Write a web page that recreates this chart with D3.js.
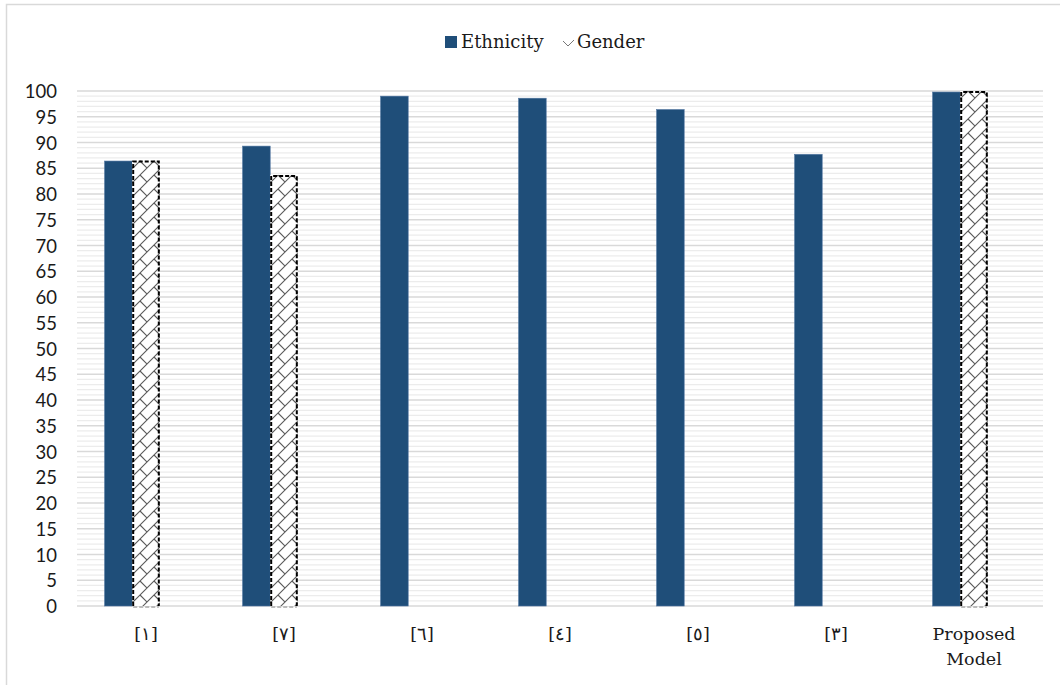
<!DOCTYPE html>
<html>
<head>
<meta charset="utf-8">
<script src="https://cdn.jsdelivr.net/npm/d3@7/dist/d3.min.js"></script>
<style>
  html, body { margin: 0; padding: 0; background: #fff; }
  svg { display: block; }
</style>
</head>
<body>
<svg id="chart" width="1060" height="685"></svg>
<script>
// Accuracy (%) per method
const categories = ["[١]", "[٧]", "[٦]", "[٤]", "[٥]", "[٣]", "Proposed\nModel"];
const ethnicity = [86.4, 89.3, 99.0, 98.6, 96.4, 87.7, 99.8];
const gender    = [86.5, 83.7, null, null, null, null, 100];
const seriesNames = ["Ethnicity", "Gender"];
const yTicks = d3.range(0, 101, 5);

const svg = d3.select("#chart");
const W = 1060, H = 685;
const plot = { left: 77, right: 1043, top: 91, bottom: 606 };

const barColor = "#1f4e79";
const serif = "'DejaVu Serif', serif";
const sans = "Lato, 'Open Sans', sans-serif";

// Outer chart frame
svg.append("rect")
  .attr("x", 6.5).attr("y", 4.5)
  .attr("width", W + 10).attr("height", H + 10)
  .attr("fill", "#fff").attr("stroke", "#d9d9d9").attr("stroke-width", 1.5);

// Hatch pattern for the Gender series
const defs = svg.append("defs");
const pat = defs.append("pattern")
  .attr("id", "hatch").attr("patternUnits", "userSpaceOnUse")
  .attr("width", 14).attr("height", 14);
pat.append("rect").attr("width", 14).attr("height", 14).attr("fill", "#fff");
pat.append("path").attr("d", "M0,14 L14,0 M-1,1 L1,-1 M13,15 L15,13 M7,7 L14,14")
  .attr("stroke", "#5a5a5a").attr("stroke-width", 1.1).attr("fill", "none");

const y = d3.scaleLinear().domain([0, 100]).range([plot.bottom, plot.top]);
const x0 = d3.scaleBand().domain(categories).range([plot.left, plot.right]).padding(0);
// three slots per group; the last one stays empty
const x1 = d3.scaleBand().domain([...seriesNames, "spare"])
  .range([0, x0.bandwidth()]).paddingInner(0).paddingOuter(1);

// Minor gridlines
const g = svg.append("g");
g.selectAll("line.minor").data(d3.range(0, 101, 1).filter(v => v % 5 !== 0))
  .join("line").attr("class", "minor")
  .attr("x1", plot.left).attr("x2", plot.right)
  .attr("y1", d => y(d)).attr("y2", d => y(d))
  .attr("stroke", "#ececec").attr("stroke-width", 1.2);
// Major gridlines
g.selectAll("line.major").data(yTicks)
  .join("line").attr("class", "major")
  .attr("x1", plot.left).attr("x2", plot.right)
  .attr("y1", d => y(d)).attr("y2", d => y(d))
  .attr("stroke", "#d9d9d9").attr("stroke-width", 1.5);

// Y axis labels
const yAxis = d3.axisLeft(y).tickValues(yTicks).tickSize(0).tickPadding(0);
const ya = svg.append("g").attr("transform", `translate(${plot.left - 20},0)`).call(yAxis);
ya.select(".domain").remove();
ya.selectAll("text").attr("font-family", sans).attr("font-size", 18.5).attr("fill", "#1a1a1a")
  .attr("dy", "0.36em");

// Bars
const groups = svg.append("g").selectAll("g.grp").data(categories)
  .join("g").attr("class", "grp")
  .attr("transform", d => `translate(${x0(d)},0)`);

groups.append("rect")
  .attr("x", x1("Ethnicity"))
  .attr("y", (d, i) => y(ethnicity[i]))
  .attr("width", x1.bandwidth())
  .attr("height", (d, i) => y(0) - y(ethnicity[i]))
  .attr("fill", barColor).attr("stroke", "#4f74a0").attr("stroke-width", 0.6);

groups.filter((d, i) => gender[i] != null).each(function(d) {
  const i = categories.indexOf(d);
  const gg = d3.select(this);
  const xl = x1("Gender"), bw = x1.bandwidth();
  const top = y(gender[i]), bot = y(0);
  gg.append("rect").attr("x", xl).attr("y", top).attr("width", bw).attr("height", bot - top)
    .attr("fill", "url(#hatch)");
  gg.append("path")
    .attr("d", `M${xl + 1},${bot} L${xl + 1},${top + 1} L${xl + bw - 1},${top + 1} L${xl + bw - 1},${bot}`)
    .attr("fill", "none").attr("stroke", "#000").attr("stroke-width", 2)
    .attr("stroke-dasharray", "4,2");
  gg.append("line")
    .attr("x1", xl + 1).attr("x2", xl + bw - 1).attr("y1", bot + 1).attr("y2", bot + 1)
    .attr("stroke", "#bbb").attr("stroke-width", 2).attr("stroke-dasharray", "4,2");
});

// Category labels
const xa = svg.append("g");
categories.forEach(c => {
  const lines = c.split("\n");
  const t = xa.append("text")
    .attr("x", x0(c) + x0.bandwidth() / 2).attr("y", 640)
    .attr("text-anchor", "middle").attr("font-family", serif).attr("font-size", 17.5)
    .attr("fill", "#1a1a1a");
  lines.forEach((ln, k) => {
    t.append("tspan").attr("x", x0(c) + x0.bandwidth() / 2)
      .attr("dy", k === 0 ? 0 : 25).text(ln);
  });
});

// Legend
const leg = svg.append("g");
leg.append("rect").attr("x", 445).attr("y", 36).attr("width", 12).attr("height", 12).attr("fill", barColor);
leg.append("text").attr("x", 461).attr("y", 48).attr("font-family", serif).attr("font-size", 18)
  .attr("fill", "#1a1a1a").text(seriesNames[0]);
leg.append("path").attr("d", "M563,41 L568,46 L574,40")
  .attr("fill", "none").attr("stroke", "#777").attr("stroke-width", 1);
leg.append("text").attr("x", 577).attr("y", 48).attr("font-family", serif).attr("font-size", 18)
  .attr("fill", "#1a1a1a").text(seriesNames[1]);
</script>
</body>
</html>
